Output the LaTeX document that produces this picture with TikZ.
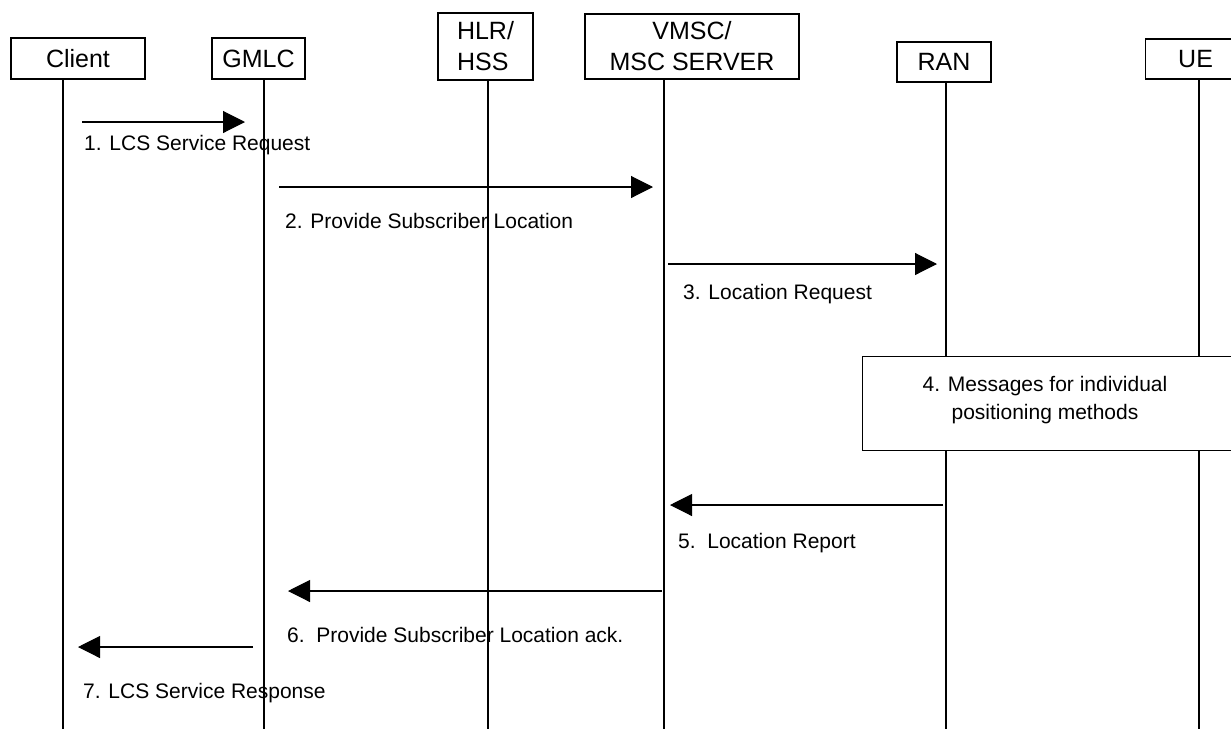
\documentclass[tikz,border=0pt]{standalone}
\usepackage{fontspec}
\setmainfont{Liberation Sans}
\usetikzlibrary{arrows.meta}
\begin{document}
\begin{tikzpicture}[x=1pt,y=-1pt,
  ent/.style={draw,line width=1.1pt,fill=white,inner sep=0pt,font=\fontsize{25}{31}\selectfont,align=center},
  life/.style={line width=1.1pt},
  msg/.style={line width=1.1pt,-{Triangle[length=22pt,width=22pt]}},
  lbl/.style={anchor=base west,inner sep=0pt,font=\fontsize{21}{27}\selectfont}]
\useasboundingbox[fill=white] (0,0) rectangle (1231,729);
% entity boxes
\node[ent,minimum width=134pt,minimum height=41pt] (client) at (78,58.5) {Client};
\node[ent,minimum width=93pt,minimum height=41pt] (gmlc) at (258.5,58.5) {GMLC};
\node[ent,minimum width=95pt,minimum height=67pt,align=left] (hlr) at (485.5,46.5) {HLR/\\HSS};
\node[ent,minimum width=214pt,minimum height=65pt] (vmsc) at (692,46.5) {VMSC/\\MSC SERVER};
\node[ent,minimum width=94pt,minimum height=40pt] (ran) at (944,62) {RAN};
\node[ent,minimum width=100pt,minimum height=40pt,anchor=west] (ue) at (1145,59) {UE};
% lifeline ends
\coordinate (clB) at (63,729);
\coordinate (gmB) at (264,729);
\coordinate (hlB) at (488,729);
\coordinate (vmB) at (664,729);
\coordinate (raB) at (946,729);
\coordinate (ueB) at (1199,729);
\draw[life] (client.south -| clB) -- (clB);
\draw[life] (gmlc.south -| gmB) -- (gmB);
\draw[life] (hlr.south -| hlB) -- (hlB);
\draw[life] (vmsc.south -| vmB) -- (vmB);
\draw[life] (ran.south -| raB) -- (raB);
\draw[life] (ue.south -| ueB) -- (ueB);
% box 4
\node[draw,line width=1.1pt,fill=white,anchor=north west,minimum width=400pt,minimum height=94pt,inner sep=0pt] (pos) at (862,356) {};
\node[align=center,inner sep=0pt,font=\fontsize{21}{28}\selectfont] (postext) at (1045,400) {4. Messages for individual\\positioning methods};
% message endpoints
\coordinate (m1s) at (82,122);   \coordinate (m1e) at (245,122);
\coordinate (m2s) at (279,187);  \coordinate (m2e) at (653,187);
\coordinate (m3s) at (668,264);  \coordinate (m3e) at (937,264);
\coordinate (m5s) at (943,505);  \coordinate (m5e) at (670,505);
\coordinate (m6s) at (662,591);  \coordinate (m6e) at (288,591);
\coordinate (m7s) at (253,647);  \coordinate (m7e) at (78,647);
\draw[msg] (m1s) -- (m1e);
\draw[msg] (m2s) -- (m2e);
\draw[msg] (m3s) -- (m3e);
\draw[msg] (m5s) -- (m5e);
\draw[msg] (m6s) -- (m6e);
\draw[msg] (m7s) -- (m7e);
% labels
\node[lbl] (l1) at (84,150) {1. LCS Service Request};
\node[lbl] (l2) at (285,228) {2. Provide Subscriber Location};
\node[lbl] (l3) at (683,299) {3. Location Request};
\node[lbl] (l5) at (678,548) {5.\ \ Location Report};
\node[lbl] (l6) at (287,642) {6.\ \ Provide Subscriber Location ack.};
\node[lbl] (l7) at (83,698) {7. LCS Service Response};
\end{tikzpicture}
\end{document}
